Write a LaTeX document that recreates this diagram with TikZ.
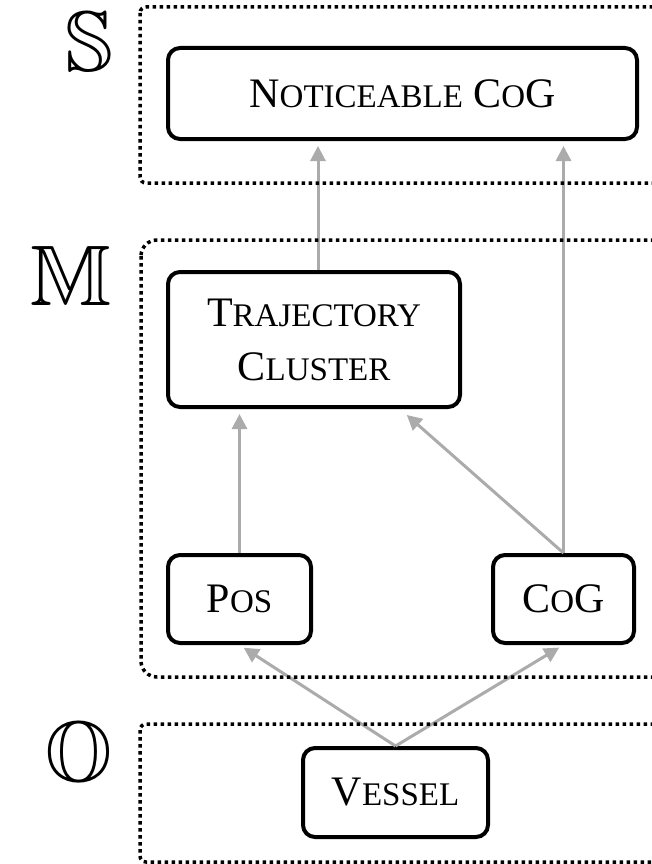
\documentclass[tikz,border=0pt]{standalone}
\usepackage{amssymb}
\usepackage{fontspec}
\setmainfont{Liberation Serif}
\usetikzlibrary{arrows.meta}

\definecolor{arrowgray}{HTML}{ABABAB}

% fake small caps: full-size initial, reduced capitals for the rest
\newcommand{\scword}[2]{{\fontsize{42}{54}\selectfont #1}{\fontsize{33}{54}\selectfont #2}}

\begin{document}
\begin{tikzpicture}[x=1pt,y=-1pt,
  box/.style={draw, line width=4pt, rounded corners=12pt, inner sep=0pt,
    align=center, font=\fontsize{42}{54}\selectfont},
  layer/.style={draw, line width=3.5pt, dash pattern=on 3.5pt off 3.5pt},
  link/.style={draw=arrowgray, line width=3pt,
    -{Triangle[length=15pt,width=15pt]}, shorten >=5pt},
  tier/.style={anchor=east, inner sep=0pt, font=\fontsize{86}{86}\selectfont}]

\useasboundingbox (0,0) rectangle (652,864);
\clip (0,0) rectangle (652,864);

% tier labels
\node[tier] (tS) at (113,42)    {$\mathbb{S}$};
\node[tier] (tM) at (112,275.5) {$\mathbb{M}$};
\node[tier] (tO) at (113,759)   {$\mathbb{O}$};

% nodes
\node[box, minimum width=469pt, minimum height=91pt] (notice) at (402.5,93.5)
  {\scword{N}{OTICEABLE} \scword{C}{O}\scword{G}{}};
\node[box, minimum width=292pt, minimum height=135pt] (traj) at (314,339.5)
  {\scword{T}{RAJECTORY}\\\scword{C}{LUSTER}};
\node[box, minimum width=143pt, minimum height=88pt] (pos) at (239.5,599)
  {\scword{P}{OS}};
\node[box, minimum width=141pt, minimum height=88pt] (cog) at (563.5,599)
  {\scword{C}{O}\scword{G}{}};
\node[box, minimum width=185pt, minimum height=89pt] (vessel) at (395.5,792.5)
  {\scword{V}{ESSEL}};

% connectors
\draw[link] ([xshift=4pt]traj.north) -- ([xshift=4pt]traj.north |- notice.south);
\draw[link] (cog.north) -- (cog.north |- notice.south);
\draw[link] (pos.north) -- (pos.north |- traj.south);
\draw[link, shorten >=9pt] (cog.north) -- ([xshift=86pt]traj.south);
\draw[link] (vessel.north) -- (pos.south);
\draw[link] (vessel.north) -- (cog.south);

% layer frames (open to the right)
\draw[layer, rounded corners=6pt]  (140,7)   rectangle (672,183);
\draw[layer, rounded corners=16pt] (141,240) rectangle (672,677);
\draw[layer, rounded corners=6pt]  (140,724) rectangle (672,862);

\end{tikzpicture}
\end{document}
